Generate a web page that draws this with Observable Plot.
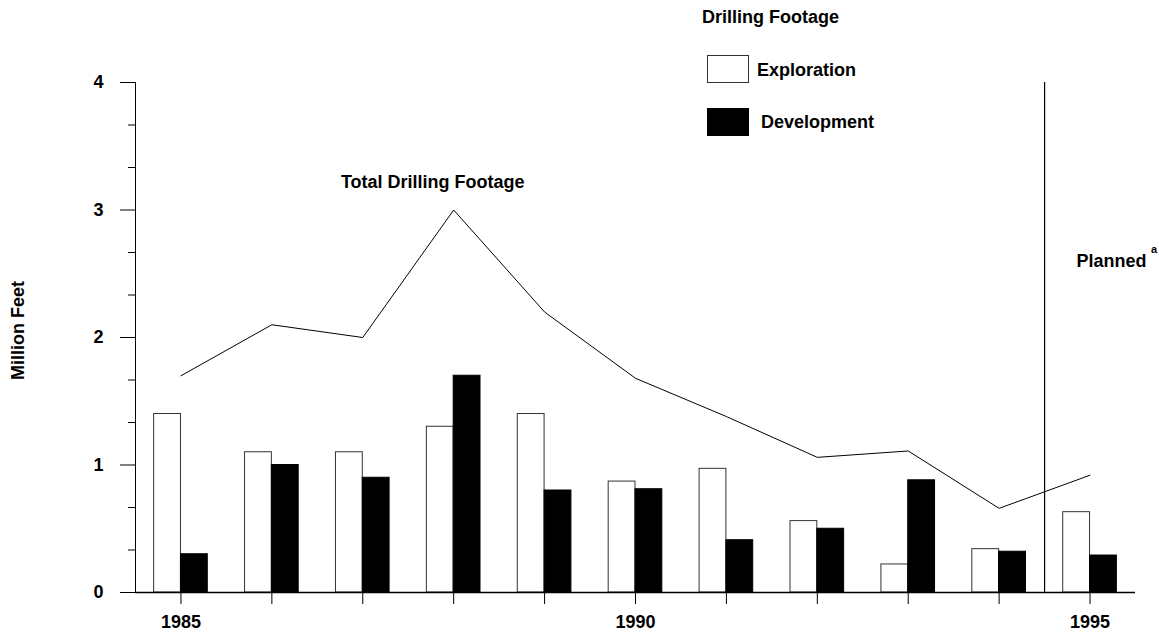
<!DOCTYPE html>
<html>
<head>
<meta charset="utf-8">
<script src="https://cdn.jsdelivr.net/npm/d3@7"></script>
<script src="https://cdn.jsdelivr.net/npm/@observablehq/plot@0.6"></script>
<style>
  html, body { margin: 0; padding: 0; background: #fff; }
  #chart { width: 1159px; height: 633px; }
</style>
</head>
<body>
<div id="chart"></div>
<script>
// ---- Data (million feet) ----
const years = [1985, 1986, 1987, 1988, 1989, 1990, 1991, 1992, 1993, 1994, 1995];
const exploration = [1.40, 1.10, 1.10, 1.30, 1.40, 0.87, 0.97, 0.56, 0.22, 0.34, 0.63];
const development = [0.30, 1.00, 0.90, 1.70, 0.80, 0.81, 0.41, 0.50, 0.88, 0.32, 0.29];
const total = [1.70, 2.10, 2.00, 3.00, 2.20, 1.68, 1.38, 1.06, 1.11, 0.66, 0.92];
const labeledYears = [1985, 1990, 1995];
const yTicks = [0, 1, 2, 3, 4];
const seriesNames = ["Exploration", "Development"];
const legendTitle = "Drilling Footage";
const lineLabel = "Total Drilling Footage";
const plannedLabel = "Planned";
const plannedNote = "a";
const yLabel = "Million Feet";
const plannedBoundary = 1994.5;

const rows = years.map((year, i) => ({
  year, exploration: exploration[i], development: development[i], total: total[i]
}));
const minorTicks = d3.range(0, 4.0001, 1 / 3).filter(v => Math.abs(v - Math.round(v)) > 1e-6);
const barW = 0.295;
const FONT = '"Liberation Sans", Arial, Helvetica, sans-serif';

const chart = Plot.plot({
  width: 1159,
  height: 633,
  marginLeft: 135,
  marginRight: 24,
  marginTop: 82,
  marginBottom: 41,
  style: { fontFamily: FONT, fontWeight: "bold", fontSize: "18px", color: "black", background: "white" },
  x: { domain: [1984.5, 1995.5] },
  y: { domain: [0, 4] },
  marks: [
    Plot.axisY(minorTicks, { tickSize: 7, tickFormat: () => "", label: null, stroke: "black" }),
    Plot.axisY(yTicks, { tickSize: 15, tickPadding: 17, tickFormat: d => String(d), label: null, stroke: "black" }),
    Plot.axisX(years, { tickSize: 12, tickPadding: 11, tickFormat: d => labeledYears.includes(d) ? String(d) : "", label: null, stroke: "black" }),
    Plot.ruleX([1984.5], { y1: 0, y2: 4, stroke: "black" }),
    Plot.rectY(rows, { x1: d => d.year - barW, x2: d => d.year, y: "exploration", fill: "white", stroke: "#333", strokeWidth: 1 }),
    Plot.rectY(rows, { x1: d => d.year, x2: d => d.year + barW, y: "development", fill: "black", stroke: "black", strokeWidth: 1 }),
    Plot.ruleY([0], { stroke: "black", strokeWidth: 1.5 }),
    Plot.ruleX([plannedBoundary], { y1: 0, y2: 4, stroke: "black", strokeWidth: 1.2 }),
    Plot.line(rows, { x: "year", y: "total", stroke: "black", strokeWidth: 1 }),
    Plot.text([lineLabel], { x: 1987.77, y: 3.22, text: d => d, textAnchor: "middle", lineAnchor: "middle", fill: "black" }),
    Plot.text([plannedLabel], { x: 1995.62, y: 2.6, text: d => d, textAnchor: "end", lineAnchor: "middle", fill: "black" }),
    Plot.text([plannedNote], { x: 1995.67, y: 2.69, text: d => d, textAnchor: "start", lineAnchor: "middle", fontSize: 11, fill: "black" }),
    Plot.text([yLabel], { frameAnchor: "left", rotate: -90, dx: -117, dy: -7, text: d => d, textAnchor: "middle", lineAnchor: "middle", fill: "black" })
  ]
});

// Legend (drawn into the same SVG)
const svg = d3.select(chart);
const leg = svg.append("g")
  .attr("font-family", FONT).attr("font-weight", "bold").attr("font-size", 18)
  .attr("fill", "black").attr("text-anchor", "start");
leg.append("text").attr("x", 702).attr("y", 23).text(legendTitle);
leg.append("rect").attr("x", 707.5).attr("y", 55.5).attr("width", 41).attr("height", 27)
  .attr("fill", "white").attr("stroke", "#333").attr("stroke-width", 1);
leg.append("text").attr("x", 757).attr("y", 76).text(seriesNames[0]);
leg.append("rect").attr("x", 707.5).attr("y", 108.5).attr("width", 41).attr("height", 27)
  .attr("fill", "black").attr("stroke", "black").attr("stroke-width", 1);
leg.append("text").attr("x", 761).attr("y", 128).text(seriesNames[1]);

document.getElementById("chart").appendChild(chart);
</script>
</body>
</html>
